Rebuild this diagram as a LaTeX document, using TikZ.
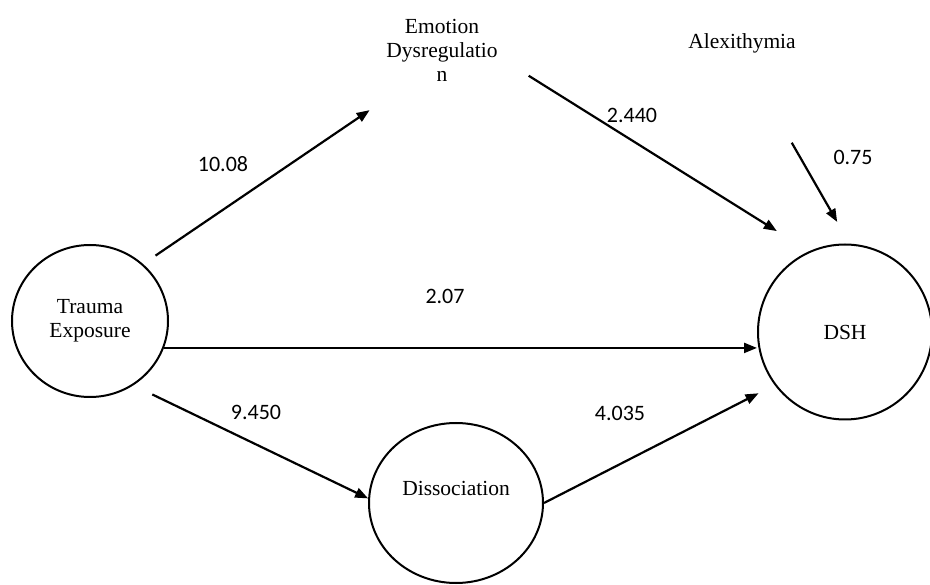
\documentclass[tikz,border=0pt]{standalone}
\usepackage{fontspec}
\setmainfont{Liberation Serif}
\newfontfamily\coeffont{Carlito}
\usetikzlibrary{arrows.meta, positioning, shapes.geometric}

\begin{document}
\begin{tikzpicture}[
    x=1pt, y=-1pt,
    var/.style={
      ellipse, draw, line width=2pt, inner sep=0pt,
      font=\fontsize{21.5}{24}\selectfont, align=center
    },
    plain/.style={font=\fontsize{21.5}{24}\selectfont, align=center, inner sep=3pt},
    coef/.style={font=\coeffont\fontsize{22}{26}\selectfont, inner sep=1pt},
    arr/.style={-{Triangle[length=13pt, width=10pt]}, line width=2.2pt},
  ]
  \useasboundingbox (0,0) rectangle (930,585);

  % Variables
  \node[var, minimum width=156pt, minimum height=152pt] (trauma) at (90,321) {Trauma\\Exposure};
  \node[var, minimum width=174pt, minimum height=175pt] (dsh) at (845,332) {DSH};
  \node[var, minimum width=174pt, minimum height=160pt] (dissoc) at (456,503) {};
  \node[plain] (dissoclabel) at ([yshift=15pt]dissoc.center) {Dissociation};
  \node[plain] (emotion) at (442,50) {Emotion\\Dysregulatio\\n};
  \node[plain] (alexi) at (742,43) {Alexithymia};

  % Paths
  \draw[arr, shorten <=15pt, shorten >=46pt] (trauma.47) -- (emotion.225);
  \draw[arr, shorten <=33pt, shorten >=38pt] (emotion.-8) -- (dsh.114);
  \draw[arr, shorten <=100pt, shorten >=25pt] (alexi.south) -- (dsh.87);
  \draw[arr] (trauma.-20) -- (trauma.-20 -| dsh.west);
  \draw[arr, shorten <=21pt] (trauma.-56) -- (dissoc.177);
  \draw[arr, shorten >=18pt] (dissoc.east) -- (dsh.217);

  % Coefficients
  \node[coef] (c1) at (223,164) {10.08};
  \node[coef] (c2) at (632,115) {2.440};
  \node[coef] (c3) at (853,157) {0.75};
  \node[coef] (c4) at (445,296) {2.07};
  \node[coef] (c5) at (256,412) {9.450};
  \node[coef] (c6) at (620,413) {4.035};

\end{tikzpicture}
\end{document}
